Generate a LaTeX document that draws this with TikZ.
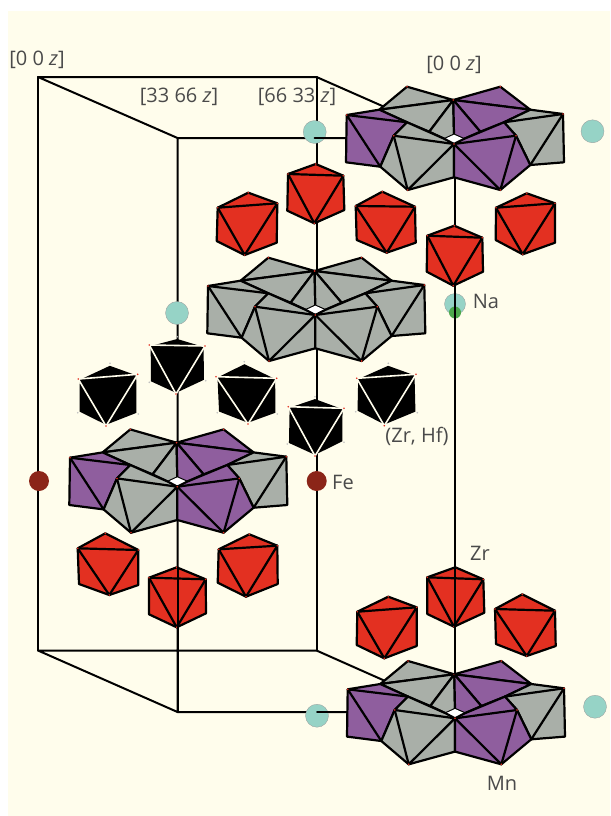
\documentclass[tikz,border=0pt]{standalone}
\usepackage{fontspec}
\setmainfont{Open Sans}
\usetikzlibrary{calc}
\definecolor{paper}{HTML}{FFFDEC}
\definecolor{octred}{HTML}{E33021}
\definecolor{mnpurple}{HTML}{8F5E9E}
\definecolor{mngrey}{HTML}{A9AFA8}
\definecolor{nateal}{HTML}{96D3C6}
\definecolor{featom}{HTML}{8B2518}
\definecolor{zratom}{HTML}{4CA84C}
\definecolor{labelgrey}{HTML}{4A4A4A}
\tikzset{
  cellline/.style={line width=2pt,black,line cap=round,line join=round},
  edge/.style={line width=2.2pt,black,line cap=round,line join=round},
  whiteedge/.style={line width=1.6pt,paper,line cap=round},
  atomna/.style={circle,fill=nateal,draw=gray!80,line width=0.3pt,minimum size=23pt,inner sep=0pt},
  atomfe/.style={circle,fill=featom,minimum size=20pt,inner sep=0pt},
  atomzr/.style={circle,fill=zratom,minimum size=12pt,inner sep=0pt},
  lab/.style={text=labelgrey,font=\fontsize{20}{22}\selectfont,inner sep=0pt},
}
\newcommand{\vdot}[2][octred]{\fill[#1] #2 circle (0.9pt);}
% #1 top #2 UL #3 UR #4 LL #5 LR #6 bottom
\newcommand{\redocta}[6]{%
  \filldraw[edge,fill=octred] #1 -- #3 -- #5 -- #6 -- #4 -- #2 -- cycle;
  \draw[edge] #2 -- #3 #2 -- #6 -- #3;
  \vdot{#2}\vdot{#3}\vdot{#6}\vdot{#1}}
\newcommand{\blackocta}[6]{%
  \coordinate (oc) at ($#1!0.5!#6$);
  \fill[black] ($(oc)!0.92!#1$) -- ($(oc)!0.95!#3$) -- ($(oc)!0.94!#5$) -- ($(oc)!0.96!#6$) -- ($(oc)!0.94!#4$) -- ($(oc)!0.95!#2$) -- cycle;
  \draw[whiteedge] #2 -- #3 #2 -- #6 -- #3;
  \vdot{#2}\vdot{#3}\vdot{#6}\vdot[gray!50]{#1}\vdot[gray!50]{#4}\vdot[gray!50]{#5}}
% #1 x  #2 y  #3 back-left #4 back-right #5 left #6 right #7 front-left #8 front-right
\newcommand{\mnring}[8]{%
\begin{scope}[shift={(#1,#2)}]
  \coordinate (C) at (0,0);
  \coordinate (T) at (-0.7,-44);
  \coordinate (A) at (-47,-57.3);
  \coordinate (B) at (46.3,-57.3);
  \coordinate (La) at (-74.7,-34.3);
  \coordinate (Ra) at (76.3,-34.3);
  \coordinate (LL) at (-107.3,-29);
  \coordinate (RR) at (109,-30);
  \coordinate (LLb) at (-108,18.3);
  \coordinate (RRb) at (110,18.3);
  \coordinate (Lk) at (-73.7,22.7);
  \coordinate (Rk) at (76.3,21);
  \coordinate (LB) at (-46.3,46);
  \coordinate (RB) at (46.3,46);
  \coordinate (Bm) at (0,33.3);
  \coordinate (FL) at (-60.3,-8.3);
  \coordinate (FR) at (62,-8.3);
  \coordinate (ML) at (-47,-21.7);
  \coordinate (MR) at (50,-21.7);
  \coordinate (HL) at (-9.3,-5);
  \coordinate (HR) at (9.7,-5);
  \coordinate (HT) at (0,-9.3);
  \coordinate (IL) at (-24.7,-12.3);
  \coordinate (IR) at (26.3,-12.3);
  % back octahedra
  \filldraw[edge,fill=#3] (A) -- (T) -- (La) -- cycle;
  \filldraw[edge,fill=#4] (B) -- (T) -- (Ra) -- cycle;
  \filldraw[edge,fill=#3] (La) -- (T) -- (IL) -- (ML) -- cycle;
  \filldraw[edge,fill=#4] (Ra) -- (T) -- (IR) -- (MR) -- cycle;
  \filldraw[edge,fill=#3] (T) -- (IL) -- (HL) -- (HT) -- cycle;
  \filldraw[edge,fill=#4] (T) -- (IR) -- (HR) -- (HT) -- cycle;
  \fill[white] (HL) -- (HT) -- (HR) -- (C) -- cycle;
  % side octahedra
  \filldraw[edge,fill=#5] (LL) -- (La) -- (ML) -- (FL) -- (Lk) -- (LLb) -- cycle;
  \draw[edge] (LL) -- (ML) (LL) -- (Lk);
  \filldraw[edge,fill=#6] (RR) -- (Ra) -- (MR) -- (FR) -- (Rk) -- (RRb) -- cycle;
  \draw[edge] (RR) -- (MR) (RR) -- (Rk);
  % front octahedra
  \filldraw[edge,fill=#7] (ML) -- (HL) -- (C) -- (Bm) -- (LB) -- (Lk) -- (FL) -- cycle;
  \draw[edge] (FL) -- (C) (FL) -- (LB) -- (C);
  \filldraw[edge,fill=#8] (MR) -- (HR) -- (C) -- (Bm) -- (RB) -- (Rk) -- (FR) -- cycle;
  \draw[edge] (FR) -- (C) (FR) -- (RB) -- (C);
  \vdot{(T)}\vdot{(C)}\vdot{(FL)}\vdot{(FR)}\vdot{(LB)}\vdot{(RB)}\vdot{(LL)}\vdot{(RR)}\vdot{(A)}\vdot{(B)}
\end{scope}}
\begin{document}
\begin{tikzpicture}[x=1pt,y=-1pt]
\useasboundingbox (0,0) rectangle (610,816);
\fill[white] (0,0) rectangle (610,816);
\fill[paper] (8,11) rectangle (610,816);

% unit cell
\coordinate (c1) at (38,77);
\coordinate (c2) at (316.5,77);
\coordinate (c3) at (177.5,138);
\coordinate (c4) at (455,138);
\coordinate (c5) at (38,650.5);
\coordinate (c6) at (316.5,650.5);
\coordinate (c7) at (177.5,712);
\coordinate (c8) at (455,712);
\draw[cellline] (c3) -- (c1) -- (c2) -- (c4) -- (c3) -- (c7) -- (c8) -- (c6) -- (c5) -- (c7);
\draw[cellline] (c1) -- (c5);
\draw[cellline] (c2) -- (c6);
\draw[cellline] (c4) -- (c8);

% sodium atoms under the lines
\node[atomna] (na1) at (314.7,132) {};
\node[atomna] (na2) at (592.5,131.3) {};
\node[atomna] (na3) at (177,313) {};
\node[atomna] (na4) at (317,715.7) {};
\node[atomna] (na5) at (595,706.7) {};
\node[atomna,minimum size=21pt] (na6) at (455,304) {};
\node[atomzr] (zr1) at (455,312.5) {};
\draw[cellline] (c3 -| na1) -- (346,138);
\draw[cellline] (c7 -| na4) -- (347,712);

% rings of MnO/ZrO octahedra
\mnring{454}{144}{mngrey}{mnpurple}{mnpurple}{mngrey}{mngrey}{mnpurple}
\mnring{315.3}{315}{mngrey}{mngrey}{mngrey}{mngrey}{mngrey}{mngrey}
\mnring{177.3}{486.7}{mngrey}{mnpurple}{mnpurple}{mngrey}{mngrey}{mnpurple}
\mnring{455}{718.3}{mngrey}{mnpurple}{mnpurple}{mngrey}{mngrey}{mnpurple}

% red octahedra
\redocta{(454.3,225.7)}{(427.3,235.7)}{(482.3,237.7)}{(426.7,271.7)}{(483,271.7)}{(453.3,285.7)}
\redocta{(382.3,191.7)}{(355.7,206)}{(415,206.7)}{(356.7,240)}{(415.7,242.7)}{(386.7,252.7)}
\redocta{(526.7,193.3)}{(496,207.7)}{(555,203.3)}{(495.7,240)}{(555,242.7)}{(522.7,254.3)}
\redocta{(315.7,164)}{(288,174)}{(343.3,175.7)}{(287.3,210.7)}{(344.3,210)}{(314.3,223.3)}
\redocta{(248.3,192.7)}{(217.7,207.7)}{(277.3,203.3)}{(216.7,241)}{(276.7,242.7)}{(244.7,255)}
\redocta{(455.3,567.3)}{(427.3,577.3)}{(483.3,579.3)}{(427.3,614)}{(484.3,612.7)}{(454,626.7)}
\redocta{(388.3,596.7)}{(357.3,611.7)}{(416.7,607.3)}{(356.7,645)}{(416.7,646)}{(384.3,658.3)}
\redocta{(522.3,594.3)}{(495,609)}{(555,610.7)}{(496,644)}{(555.7,646)}{(526.7,656)}
\redocta{(105.3,533.3)}{(77.7,548.3)}{(138.3,550)}{(79,584)}{(138.3,585)}{(109.3,595)}
\redocta{(176.7,567.3)}{(149,577.7)}{(205.7,579.3)}{(149,614.3)}{(206,613.3)}{(176.7,627.3)}
\redocta{(249.3,534.3)}{(218.7,549.3)}{(277.3,545.7)}{(217.7,582.7)}{(277.7,584)}{(246,596.7)}

% black octahedra
\blackocta{(177.3,336.7)}{(149.3,345)}{(205,346)}{(149.3,382.3)}{(205.7,380.7)}{(176,394)}
\blackocta{(110,363.3)}{(78.3,379)}{(137.7,374.3)}{(77.7,412.7)}{(138.3,414)}{(106,426)}
\blackocta{(244.3,361.7)}{(216,376.7)}{(276.7,378.3)}{(217.3,412.7)}{(277.3,414)}{(248,424)}
\blackocta{(315,396.7)}{(288.3,406.7)}{(344,408.3)}{(287.3,444)}{(344,442.3)}{(315,456)}
\blackocta{(388.3,363.3)}{(356.7,378.3)}{(416,374.3)}{(355.7,411.7)}{(417.3,412.7)}{(384.3,425.7)}

% lines in front of the atoms and octahedra
\coordinate (l1) at (455,285.7);
\coordinate (l2) at (455,674);
\coordinate (l3) at (177.5,567.3);
\draw[cellline] (l1) -- (l2);
\draw[cellline] (l3) -- (c7);

% iron atoms
\node[atomfe] (fe1) at (39,481) {};
\node[atomfe] (fe2) at (316.7,481) {};

% labels
\node[lab] (t1) at (37,60) {[0 0 \textit{z}]};
\node[lab] (t2) at (179,97) {[33 66 \textit{z}]};
\node[lab] (t3) at (297,97) {[66 33 \textit{z}]};
\node[lab] (t4) at (454,65) {[0 0 \textit{z}]};
\node[lab] (t5) at (486,301) {Na};
\node[lab] (t6) at (417,436) {(Zr, Hf)};
\node[lab] (t7) at (343,482) {Fe};
\node[lab] (t8) at (480,553) {Zr};
\node[lab] (t9) at (502,783) {Mn};
\end{tikzpicture}
\end{document}
